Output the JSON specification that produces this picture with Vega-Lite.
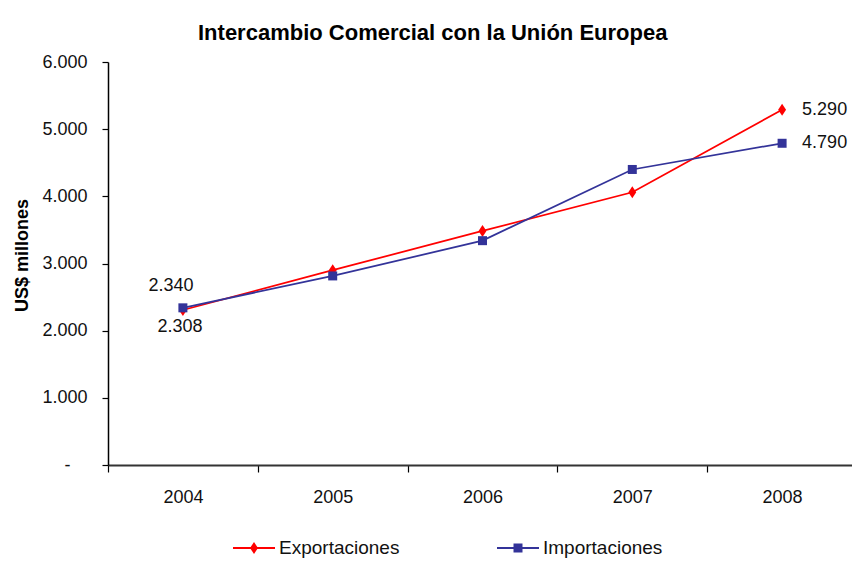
{
  "$schema": "https://vega.github.io/schema/vega-lite/v6.json",
  "width": 744,
  "height": 403,
  "autosize": "none",
  "padding": {"left": 108, "top": 62, "right": 0, "bottom": 96},
  "background": "white",
  "title": {
    "text": "Intercambio Comercial con la Unión Europea",
    "font": "Liberation Sans",
    "fontSize": 22,
    "fontWeight": "bold",
    "color": "#000000",
    "anchor": "start",
    "frame": "group",
    "dx": 90,
    "dy": 33,
    "offset": 24,
    "baseline": "alphabetic"
  },
  "data": {
    "values": [
      {"year": "2004", "series": "Exportaciones", "value": 2308},
      {"year": "2005", "series": "Exportaciones", "value": 2900},
      {"year": "2006", "series": "Exportaciones", "value": 3485},
      {"year": "2007", "series": "Exportaciones", "value": 4060},
      {"year": "2008", "series": "Exportaciones", "value": 5290},
      {"year": "2004", "series": "Importaciones", "value": 2340},
      {"year": "2005", "series": "Importaciones", "value": 2815},
      {"year": "2006", "series": "Importaciones", "value": 3340},
      {"year": "2007", "series": "Importaciones", "value": 4400},
      {"year": "2008", "series": "Importaciones", "value": 4790}
    ]
  },
  "encoding": {
    "x": {
      "field": "year",
      "type": "ordinal",
      "bandPosition": 0.5,
      "scale": {"type": "band", "paddingInner": 0, "paddingOuter": 0, "range": [0, 749]},
      "axis": {
        "title": null,
        "labelAngle": 0,
        "labelFont": "Liberation Sans",
        "labelFontSize": 18,
        "labelColor": "#111111",
        "labelPadding": 16,
        "tickBand": "extent",
        "tickSize": 7,
        "tickColor": "#000000",
        "tickWidth": 1.2,
        "domainColor": "#333333",
        "domainWidth": 2,
        "grid": false
      }
    },
    "y": {
      "field": "value",
      "type": "quantitative",
      "scale": {"domain": [0, 6000], "nice": false},
      "axis": {
        "title": "US$ millones",
        "values": [0, 1000, 2000, 3000, 4000, 5000, 6000],
        "format": ",.0f",
        "labelExpr": "datum.value === 0 ? '-' : datum.label",
        "labelFont": "Liberation Sans",
        "labelFontSize": 18,
        "labelColor": "#111111",
        "labelPadding": {"condition": {"test": "datum.value === 0", "value": 32}, "value": 15},
        "tickSize": 6,
        "tickColor": "#000000",
        "tickWidth": 1.2,
        "domainColor": "#000000",
        "domainWidth": 1.5,
        "grid": false,
        "titleFont": "Liberation Sans",
        "titleFontSize": 18,
        "titleFontWeight": "bold",
        "titleColor": "#000000",
        "titleAngle": -90,
        "titleAlign": "center",
        "titleBaseline": "middle",
        "titleX": -86,
        "titleY": 193
      }
    }
  },
  "layer": [
    {
      "mark": {"type": "line", "strokeWidth": 1.75},
      "encoding": {
        "color": {
          "field": "series",
          "type": "nominal",
          "scale": {"domain": ["Exportaciones", "Importaciones"], "range": ["#FF0000", "#333399"]},
          "legend": {
            "orient": "none",
            "legendX": 125,
            "legendY": 465,
            "direction": "horizontal",
            "title": null,
            "padding": 0,
            "symbolSize": 1764,
            "labelFont": "Liberation Sans",
            "labelFontSize": 19,
            "labelColor": "#111111",
            "labelOffset": 4,
            "columnPadding": 97,
            "encode": {
              "symbols": {
                "update": {
                  "shape": {"signal": "datum.value === 'Exportaciones' ? 'M-1,-0.048L1,-0.048L1,0.048L-1,0.048Z M0,-0.286L0.19,0L0,0.286L-0.19,0Z' : 'M-1,-0.048L1,-0.048L1,0.048L-1,0.048Z M-0.214,-0.214L0.214,-0.214L0.214,0.214L-0.214,0.214Z'"},
                  "fill": {"signal": "datum.value === 'Exportaciones' ? '#FF0000' : '#333399'"},
                  "fillOpacity": {"value": 1},
                  "opacity": {"value": 1},
                  "strokeWidth": {"value": 0},
                  "size": {"value": 1764}
                }
              }
            }
          }
        }
      }
    },
    {
      "transform": [{"filter": "datum.series === 'Exportaciones'"}],
      "mark": {"type": "point", "filled": true, "opacity": 1, "size": 144, "strokeWidth": 0, "color": "#FF0000", "shape": "M0,-1L0.66,0L0,1L-0.66,0Z"},
      "encoding": {}
    },
    {
      "transform": [{"filter": "datum.series === 'Importaciones'"}],
      "mark": {"type": "point", "filled": true, "opacity": 1, "size": 144, "strokeWidth": 0, "color": "#333399", "shape": "M-0.75,-0.75L0.75,-0.75L0.75,0.75L-0.75,0.75Z"},
      "encoding": {}
    },
    {
      "transform": [{"filter": "datum.year === '2004' && datum.series === 'Importaciones'"}],
      "mark": {"type": "text", "font": "Liberation Sans", "fontSize": 18, "color": "#111111", "align": "center", "baseline": "middle", "dx": -12, "dy": -22},
      "encoding": {"text": {"field": "value", "type": "quantitative", "format": ",.0f"}}
    },
    {
      "transform": [{"filter": "datum.year === '2004' && datum.series === 'Exportaciones'"}],
      "mark": {"type": "text", "font": "Liberation Sans", "fontSize": 18, "color": "#111111", "align": "center", "baseline": "middle", "dx": -3, "dy": 17},
      "encoding": {"text": {"field": "value", "type": "quantitative", "format": ",.0f"}}
    },
    {
      "transform": [{"filter": "datum.year === '2008'"}],
      "mark": {"type": "text", "font": "Liberation Sans", "fontSize": 18, "color": "#111111", "align": "left", "baseline": "middle", "dx": 20, "dy": 0},
      "encoding": {"text": {"field": "value", "type": "quantitative", "format": ",.0f"}}
    }
  ],
  "config": {
    "view": {"stroke": null},
    "locale": {"number": {"decimal": ",", "thousands": ".", "grouping": [3], "currency": ["$", ""]}}
  }
}
